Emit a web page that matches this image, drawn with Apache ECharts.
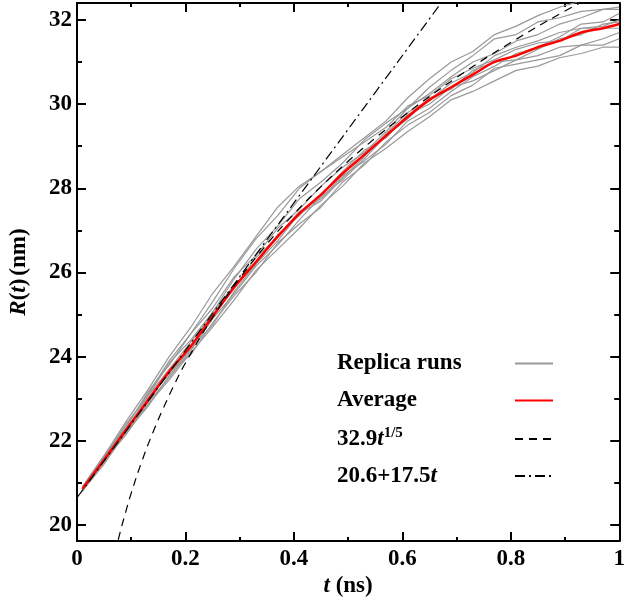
<!DOCTYPE html>
<html>
<head>
<meta charset="utf-8">
<script src="https://cdn.jsdelivr.net/npm/echarts@6/dist/echarts.min.js"></script>
<style>
  html, body { margin: 0; padding: 0; background: #fff; }
  #chart { width: 628px; height: 603px; }
</style>
</head>
<body>
<div id="chart"></div>
<script>
// time grid shared by the replica runs and the average (ns)
var tGrid = [0.01, 0.05, 0.09, 0.13, 0.17, 0.21, 0.25, 0.29, 0.33, 0.37, 0.41, 0.45, 0.49,
  0.53, 0.57, 0.61, 0.65, 0.69, 0.73, 0.77, 0.81, 0.85, 0.89, 0.93, 0.97, 1.0];

// replica runs, R(t) in nm
var run1 = [20.86, 21.60, 22.35, 23.10, 23.90, 24.55, 25.30, 26.10, 26.80, 27.35, 28.00, 28.40, 28.80, 29.20, 29.60, 30.15, 30.60, 31.00, 31.25, 31.65, 31.85, 32.10, 32.30, 32.45, 32.50, 32.50];
var run2 = [20.81, 21.50, 22.15, 22.85, 23.45, 24.10, 24.70, 25.35, 26.05, 26.55, 27.05, 27.60, 28.05, 28.60, 28.95, 29.35, 29.70, 30.10, 30.30, 30.55, 30.80, 30.90, 31.10, 31.20, 31.35, 31.35];
var run3 = [20.91, 21.65, 22.30, 23.15, 23.80, 24.55, 25.15, 25.90, 26.40, 27.05, 27.50, 28.05, 28.50, 28.85, 29.35, 29.90, 30.25, 30.65, 31.00, 31.20, 31.50, 31.65, 31.90, 32.05, 32.25, 32.30];
var run4 = [20.81, 21.55, 22.15, 22.90, 23.50, 24.15, 24.90, 25.50, 26.15, 26.65, 27.25, 27.80, 28.20, 28.70, 29.25, 29.65, 30.15, 30.35, 30.80, 31.00, 31.05, 31.30, 31.55, 31.65, 31.90, 31.95];
var run5 = [20.91, 21.65, 22.45, 23.20, 24.00, 24.70, 25.50, 26.15, 26.85, 27.55, 28.05, 28.40, 28.75, 29.10, 29.45, 29.95, 30.20, 30.60, 30.85, 31.05, 31.30, 31.45, 31.50, 31.80, 31.85, 32.00];
var run6 = [20.86, 21.50, 22.30, 22.90, 23.65, 24.05, 24.80, 25.45, 26.00, 26.70, 27.15, 27.55, 28.15, 28.55, 29.10, 29.50, 29.80, 30.20, 30.45, 30.85, 30.95, 31.05, 31.15, 31.40, 31.40, 31.55];
var run7 = [20.91, 21.60, 22.40, 23.05, 23.85, 24.40, 25.05, 25.85, 26.55, 27.10, 27.75, 28.15, 28.60, 29.15, 29.55, 29.90, 30.40, 30.80, 31.15, 31.55, 31.65, 31.95, 32.05, 32.20, 32.25, 32.25];
var run8 = [20.81, 21.45, 22.20, 22.80, 23.55, 24.20, 24.75, 25.55, 26.20, 26.90, 27.35, 27.85, 28.40, 28.90, 29.20, 29.75, 30.00, 30.40, 30.55, 30.80, 31.05, 31.15, 31.35, 31.40, 31.55, 31.70];
var run9 = [20.86, 21.60, 22.25, 23.05, 23.70, 24.35, 25.00, 25.65, 26.35, 26.85, 27.45, 27.75, 28.30, 28.65, 29.05, 29.60, 29.90, 30.30, 30.65, 30.90, 31.20, 31.35, 31.60, 31.90, 31.95, 32.15];
var run10 = [20.81, 21.55, 22.20, 23.00, 23.60, 24.25, 25.05, 25.70, 26.20, 26.75, 27.40, 27.70, 28.25, 28.75, 29.30, 29.80, 30.10, 30.50, 30.75, 31.15, 31.35, 31.50, 31.70, 31.80, 31.80, 31.80];
var runs = [run1, run2, run3, run4, run5, run6, run7, run8, run9, run10];

// average over the runs
var avgR = [20.86, 21.55, 22.25, 22.95, 23.65, 24.25, 24.95, 25.65, 26.25, 26.85, 27.40, 27.85, 28.35,
  28.80, 29.25, 29.70, 30.10, 30.40, 30.70, 31.00, 31.15, 31.35, 31.50, 31.70, 31.80, 31.90];

// power law fit 32.9 t^(1/5)
var powT = [0.07, 0.08, 0.09, 0.10, 0.12, 0.14, 0.16, 0.18, 0.20, 0.25, 0.30, 0.35, 0.40, 0.45, 0.50, 0.55, 0.60, 0.70, 0.80, 0.90, 1.00];
var powR = [19.33, 19.85, 20.32, 20.76, 21.53, 22.20, 22.80, 23.35, 23.85, 24.93, 25.86, 26.67, 27.39, 28.04, 28.64, 29.19, 29.70, 30.63, 31.46, 32.21, 32.90];

// linear fit 20.6 + 17.5 t
var linT = [0, 0.7];
var linR = [20.65, 32.9];

var yMajor = [20, 22, 24, 26, 28, 30, 32];
var yMinor = [21, 23, 25, 27, 29, 31];

function pairs(xs, ys) {
  return xs.map(function (x, i) { return [x, ys[i]]; });
}

var font = 'Liberation Serif, Times New Roman, serif';
var black = '#000';

var legendText = {
  'Replica runs': '{n|Replica runs}',
  'Average': '{n|Average}',
  'pow': '{n|32.9}{i|t}{s|1/5}',
  'lin': '{n|20.6+17.5}{i|t}'
};

var series = [];
runs.forEach(function (r) {
  series.push({
    name: 'Replica runs',
    type: 'line',
    data: pairs(tGrid, r),
    symbol: 'none',
    lineStyle: { color: '#999', width: 1.2 },
    itemStyle: { color: '#999' }
  });
});
series.push({
  name: 'Average',
  type: 'line',
  data: pairs(tGrid, avgR),
  symbol: 'none',
  smooth: 0.3,
  lineStyle: { color: '#ff0000', width: 2.5 },
  itemStyle: { color: '#ff0000' }
});
series.push({
  name: 'pow',
  type: 'line',
  data: pairs(powT, powR),
  symbol: 'none',
  smooth: true,
  lineStyle: { color: black, width: 1.2, type: [8, 6] },
  itemStyle: { color: black }
});
series.push({
  name: 'lin',
  type: 'line',
  data: pairs(linT, linR),
  symbol: 'none',
  lineStyle: { color: black, width: 1.2, type: [10, 4, 2, 4] },
  itemStyle: { color: black }
});

function xAxisOf(pos, showLabel) {
  return {
    type: 'value',
    position: pos,
    min: 0,
    max: 1,
    interval: 0.2,
    axisLine: { lineStyle: { color: black, width: 2 } },
    axisTick: { inside: true, length: 9, lineStyle: { color: black, width: 2 } },
    minorTick: { show: true, splitNumber: 2, length: 4, lineStyle: { color: black, width: 2 } },
    splitLine: { show: false },
    axisLabel: { show: showLabel, color: black, fontFamily: font, fontWeight: 'bold', fontSize: 23, margin: 6 }
  };
}

function yAxisOf(pos, ticks, len, showLine, showLabel) {
  return {
    type: 'value',
    position: pos,
    min: 19.62,
    max: 32.4,
    axisLine: { show: showLine, lineStyle: { color: black, width: 2 } },
    axisTick: { inside: true, length: len, customValues: ticks, lineStyle: { color: black, width: 2 } },
    splitLine: { show: false },
    axisLabel: { show: showLabel, customValues: ticks, color: black, fontFamily: font, fontWeight: 'bold', fontSize: 23, margin: 5 }
  };
}

var xBottom = xAxisOf('bottom', true);
xBottom.name = '{i|t}{n| (ns)}';
xBottom.nameLocation = 'middle';
xBottom.nameGap = 24;
xBottom.nameTextStyle = {
  rich: {
    i: { fontFamily: font, fontWeight: 'bold', fontStyle: 'italic', fontSize: 23, color: black },
    n: { fontFamily: font, fontWeight: 'bold', fontSize: 23, color: black }
  }
};

var yLeft = yAxisOf('left', yMajor, 9, true, true);
yLeft.name = '{i|R}{n|(}{i|t}{n|)}{p|(nm)}';
yLeft.nameLocation = 'middle';
yLeft.nameRotate = 90;
yLeft.nameGap = 46;
yLeft.nameTextStyle = {
  rich: {
    i: { fontFamily: font, fontWeight: 'bold', fontStyle: 'italic', fontSize: 23, color: black },
    n: { fontFamily: font, fontWeight: 'bold', fontSize: 23, color: black },
    p: { fontFamily: font, fontWeight: 'bold', fontSize: 23, color: black, padding: [0, 0, 0, 3] }
  }
};

var option = {
  animation: false,
  backgroundColor: '#fff',
  grid: { left: 76, right: 6, top: 3, bottom: 55, containLabel: false },
  legend: {
    orient: 'vertical',
    align: 'right',
    left: 332,
    top: 347,
    itemWidth: 38,
    itemHeight: 14,
    itemGap: 14,
    itemStyle: { opacity: 0 },
    lineStyle: { width: 2 },
    data: ['Replica runs', 'Average', 'pow', 'lin'],
    formatter: function (name) { return legendText[name]; },
    textStyle: {
      width: 173,
      color: black,
      rich: {
        n: { fontFamily: font, fontWeight: 'bold', fontSize: 23, lineHeight: 26, align: 'left', color: black },
        i: { fontFamily: font, fontWeight: 'bold', fontStyle: 'italic', fontSize: 23, lineHeight: 26, align: 'left', color: black },
        s: { fontFamily: font, fontWeight: 'bold', fontSize: 15, lineHeight: 15, verticalAlign: 'top', align: 'left', color: black }
      }
    }
  },
  xAxis: [xBottom, xAxisOf('top', false)],
  yAxis: [
    yLeft,
    yAxisOf('left', yMinor, 5, false, false),
    yAxisOf('right', yMajor, 9, true, false),
    yAxisOf('right', yMinor, 5, false, false)
  ],
  series: series
};

var myChart = echarts.init(document.getElementById('chart'));
myChart.setOption(option, true);
</script>
</body>
</html>
